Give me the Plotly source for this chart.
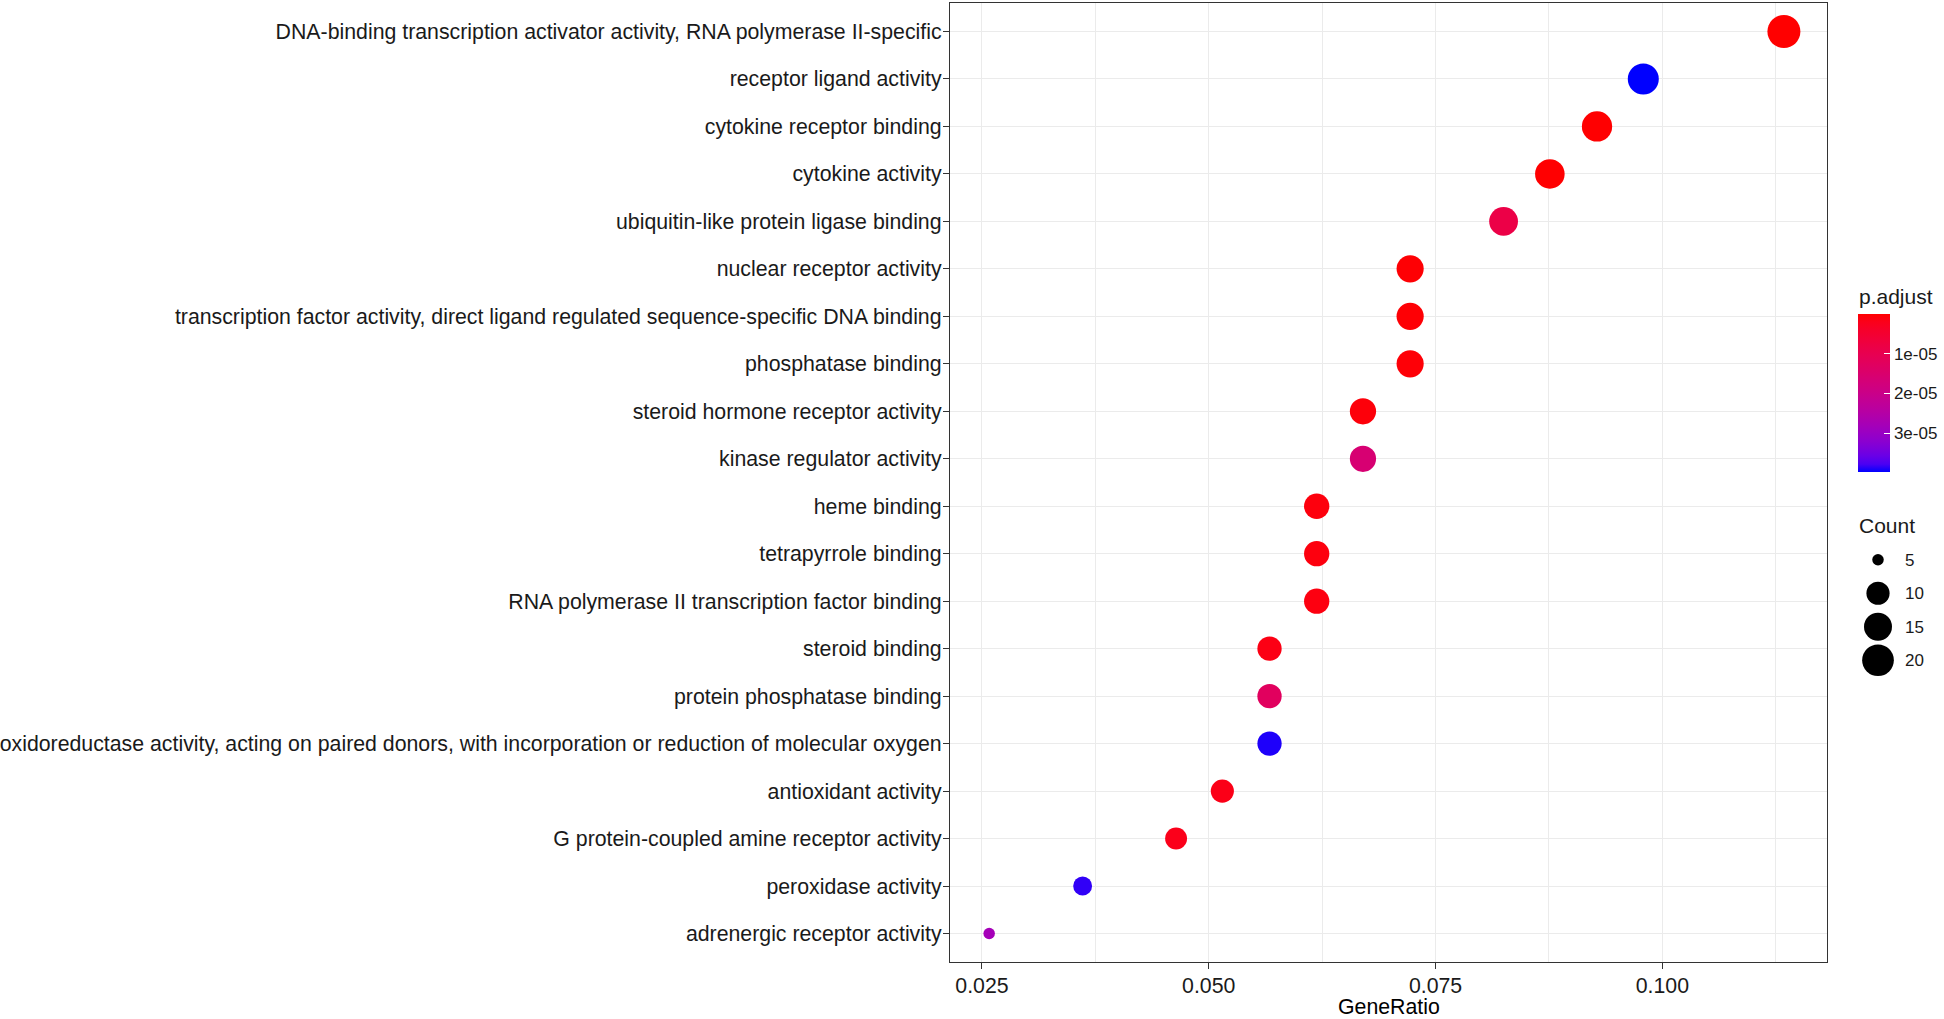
import numpy as np
import plotly.graph_objects as go

terms = [
    "DNA-binding transcription activator activity, RNA polymerase II-specific",
    "receptor ligand activity",
    "cytokine receptor binding",
    "cytokine activity",
    "ubiquitin-like protein ligase binding",
    "nuclear receptor activity",
    "transcription factor activity, direct ligand regulated sequence-specific DNA binding",
    "phosphatase binding",
    "steroid hormone receptor activity",
    "kinase regulator activity",
    "heme binding",
    "tetrapyrrole binding",
    "RNA polymerase II transcription factor binding",
    "steroid binding",
    "protein phosphatase binding",
    "oxidoreductase activity, acting on paired donors, with incorporation or reduction of molecular oxygen",
    "antioxidant activity",
    "G protein-coupled amine receptor activity",
    "peroxidase activity",
    "adrenergic receptor activity",
]
gene_ratio = [0.1134, 0.0979, 0.0928, 0.0876, 0.0825, 0.0722, 0.0722, 0.0722, 0.0670, 0.0670,
              0.0619, 0.0619, 0.0619, 0.0567, 0.0567, 0.0567, 0.0515, 0.0464, 0.0361, 0.0258]
counts = [22, 19, 18, 17, 16, 14, 14, 14, 13, 13, 12, 12, 12, 11, 11, 11, 10, 9, 7, 5]
p_adjust = [2e-9, 3.98e-5, 6e-8, 1e-7, 8.5e-6, 3e-7, 4e-7, 5e-7, 8e-7, 1.6e-5,
            1e-6, 1.1e-6, 1.2e-6, 1.5e-6, 1.25e-5, 3.9e-5, 1.8e-6, 2e-6, 3.85e-5, 2.8e-5]
x_ticks = [0.025, 0.050, 0.075, 0.100]
x_tick_labels = ["0.025", "0.050", "0.075", "0.100"]
p_ticks = [1e-5, 2e-5, 3e-5]
p_tick_labels = ["1e-05", "2e-05", "3e-05"]
size_breaks = [5, 10, 15, 20]

FONT = "Liberation Sans, Arial, sans-serif"

# ---- colour scale: red -> blue interpolated in CIE Lab (like ggplot) ----
WHITE = np.array([0.95047, 1.0, 1.08883])
M = np.array([[0.4124564, 0.3575761, 0.1804375],
              [0.2126729, 0.7151522, 0.0721750],
              [0.0193339, 0.1191920, 0.9503041]])
Minv = np.linalg.inv(M)

def rgb_to_lab(rgb):
    c = np.array(rgb) / 255.0
    lin = np.where(c <= 0.04045, c / 12.92, ((c + 0.055) / 1.055) ** 2.4)
    xyz = M @ lin / WHITE
    f = np.where(xyz > 0.008856, np.cbrt(xyz), 7.787 * xyz + 16 / 116)
    return np.array([116 * f[1] - 16, 500 * (f[0] - f[1]), 200 * (f[1] - f[2])])

def lab_to_rgb(lab):
    L, a, b = lab
    fy = (L + 16) / 116
    fx = fy + a / 500
    fz = fy - b / 200
    f = np.array([fx, fy, fz])
    xyz = np.where(f ** 3 > 0.008856, f ** 3, (f - 16 / 116) / 7.787) * WHITE
    lin = np.clip(Minv @ xyz, 0, 1)
    c = np.where(lin <= 0.0031308, 12.92 * lin, 1.055 * lin ** (1 / 2.4) - 0.055)
    c = np.clip(np.round(c * 255), 0, 255).astype(int)
    return "rgb(%d,%d,%d)" % tuple(c)

lab_red = rgb_to_lab((255, 0, 0))
lab_blue = rgb_to_lab((0, 0, 255))
colorscale = [[s, lab_to_rgb(lab_blue + (lab_red - lab_blue) * s)] for s in np.linspace(0, 1, 21)]

# ---- size scale (area scale like ggplot) ----
cmin_c, cmax_c = min(counts), max(counts)
def size_of(v):
    return 11.5 + 21.5 * np.sqrt((np.asarray(v, float) - cmin_c) / (cmax_c - cmin_c))

# ---- geometry ----
W, H = 1944, 1019
ML, MR, MT, MB = 950, 10, 3, 57
PW = W - ML - MR
PH = H - MT - MB
def px_x(x):
    return (x - ML) / PW
def px_y(y):
    return (H - MB - y) / PH

fig = go.Figure()

neg_p = [-p for p in p_adjust]
fig.add_trace(go.Scatter(
    x=gene_ratio, y=terms, mode="markers",
    marker=dict(
        size=size_of(counts), sizemode="diameter", color=neg_p,
        colorscale=colorscale, cmin=-max(p_adjust), cmax=-min(p_adjust),
        line=dict(width=0), opacity=1,
        colorbar=dict(
            x=px_x(1858), xanchor="left", xpad=0,
            y=px_y(393), yanchor="middle", ypad=0,
            thickness=32, lenmode="pixels", len=158,
            outlinewidth=0,
            tickvals=[-v for v in p_ticks], ticktext=p_tick_labels,
            ticks="inside", tickcolor="white", ticklen=6, tickwidth=1.3,
            tickfont=dict(family=FONT, size=17, color="#1a1a1a"),
        ),
    ),
    showlegend=False, hoverinfo="x+y",
))

# size legend
fig.add_trace(go.Scatter(
    x=[0.5] * len(size_breaks), y=[str(s) for s in size_breaks], mode="markers",
    marker=dict(size=size_of(size_breaks), color="#000000", opacity=1, line=dict(width=0)),
    xaxis="x2", yaxis="y2", showlegend=False, hoverinfo="skip",
))

fig.update_layout(
    width=W, height=H,
    margin=dict(l=ML, r=MR, t=MT, b=MB, autoexpand=False),
    paper_bgcolor="white", plot_bgcolor="white",
    font=dict(family=FONT, size=21, color="black"),
    xaxis=dict(
        domain=[0, px_x(1827)], range=[0.02148, 0.11815],
        tickvals=x_ticks, ticktext=x_tick_labels,
        tickfont=dict(family=FONT, size=21.3, color="#1a1a1a"),
        ticks="outside", ticklen=6, tickwidth=1.1, tickcolor="#333333",
        showgrid=True, gridcolor="#EBEBEB", gridwidth=1.2,
        minor=dict(dtick=0.0125, tick0=0.025, showgrid=True, gridcolor="#EBEBEB", gridwidth=0.7, ticks=""),
        showline=True, linecolor="#333333", linewidth=1.3, mirror=True,
        zeroline=False, anchor="y", automargin=False, ticklabelstandoff=-2,
    ),
    yaxis=dict(
        type="category", categoryorder="array", categoryarray=terms[::-1],
        range=[-0.6, len(terms) - 0.4],
        tickfont=dict(family=FONT, size=21.3, color="#1a1a1a"),
        ticks="outside", ticklen=6, tickwidth=1.1, tickcolor="#333333",
        showgrid=True, gridcolor="#EBEBEB", gridwidth=1.2,
        showline=True, linecolor="#333333", linewidth=1.3, mirror=True,
        zeroline=False, anchor="x", ticklabelstandoff=-3, automargin=False,
    ),
    xaxis2=dict(
        domain=[px_x(1858), px_x(1898)], range=[0, 1], visible=False, anchor="y2",
        fixedrange=True, automargin=False,
    ),
    yaxis2=dict(
        domain=[px_y(677), px_y(543)], type="category",
        categoryorder="array", categoryarray=[str(s) for s in size_breaks[::-1]],
        range=[-0.5, len(size_breaks) - 0.5],
        side="right", anchor="x2", showgrid=False, showline=False, zeroline=False,
        ticks="", tickfont=dict(family=FONT, size=17, color="#1a1a1a"),
        ticklabelstandoff=6, fixedrange=True, automargin=False,
    ),
    annotations=[
        dict(text="GeneRatio", xref="paper", yref="paper",
             x=px_x((950 + 1827) / 2), y=px_y(1007), xanchor="center", yanchor="middle",
             showarrow=False, font=dict(family=FONT, size=21.3, color="black")),
        dict(text="p.adjust", xref="paper", yref="paper",
             x=px_x(1857), y=px_y(297), xanchor="left", yanchor="middle",
             showarrow=False, font=dict(family=FONT, size=21, color="#1a1a1a")),
        dict(text="Count", xref="paper", yref="paper",
             x=px_x(1857), y=px_y(525), xanchor="left", yanchor="middle",
             showarrow=False, font=dict(family=FONT, size=21, color="#1a1a1a")),
    ],
)

fig.write_html("out.html", config={"displayModeBar": False},
               post_script="document.body.style.margin='0';")
